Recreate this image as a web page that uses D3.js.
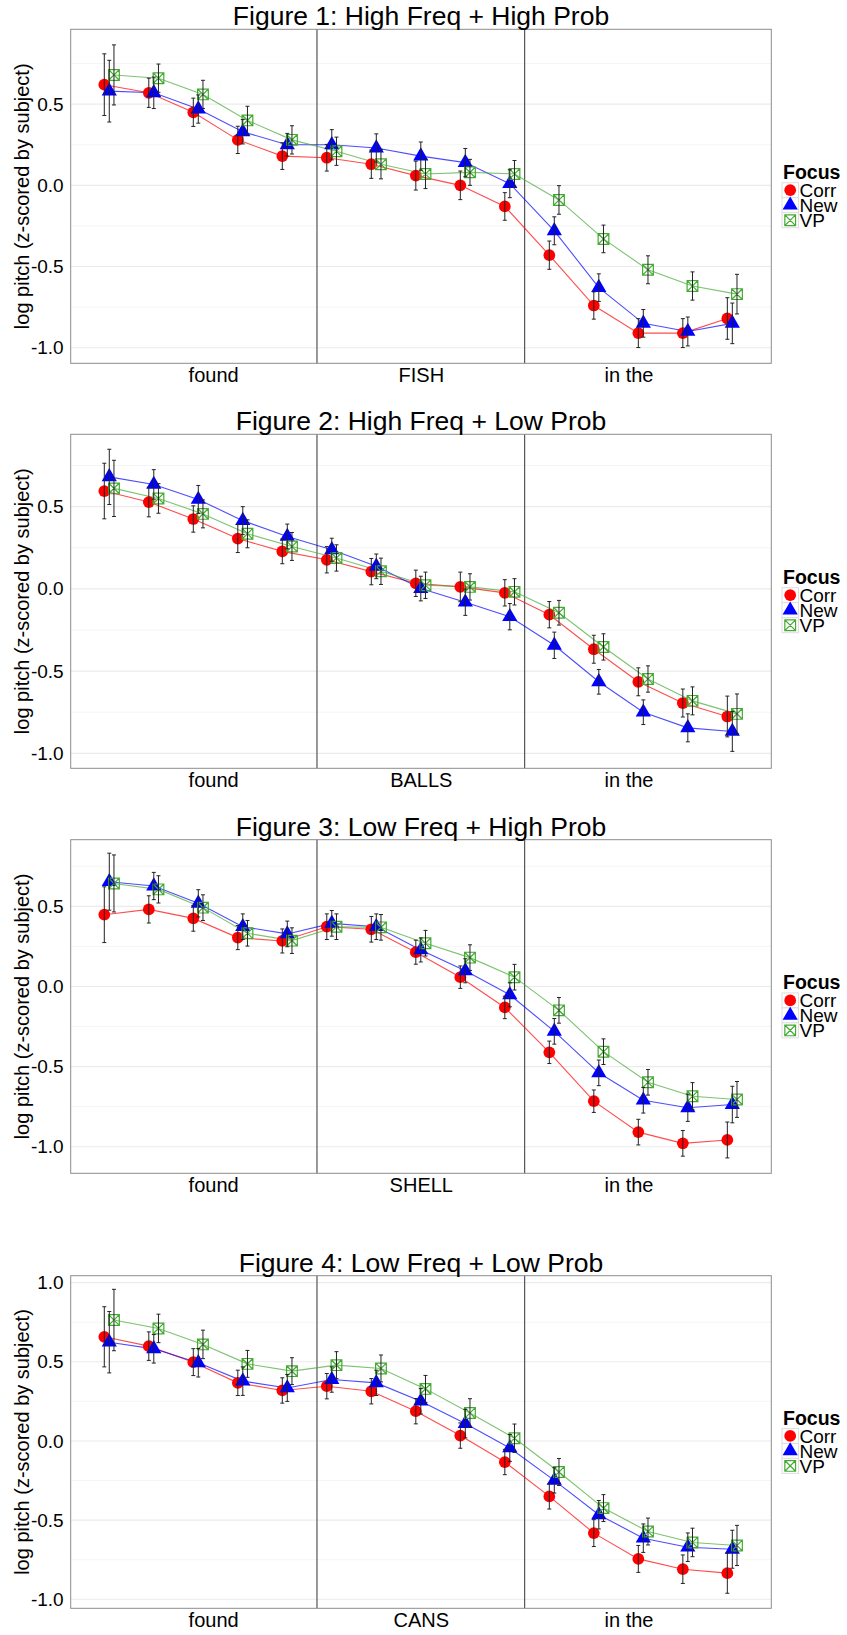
<!DOCTYPE html>
<html>
<head>
<meta charset="utf-8">
<script src="https://cdn.jsdelivr.net/npm/d3@7"></script>
<style>
  body { margin: 0; background: #fff; }
  svg { display: block; font-family: "Liberation Sans", Arial, sans-serif; }
</style>
</head>
<body>
<svg id="chart" width="847" height="1635"></svg>
<script>
// ---- data ----
const focusLevels = ['Corr', 'New', 'VP'];
const timePoints = [1, 2, 3, 4, 5, 6, 7, 8, 9, 10, 11, 12, 13, 14, 15];
const figureTitles = [
  'Figure 1: High Freq + High Prob',
  'Figure 2: High Freq + Low Prob',
  'Figure 3: Low Freq + High Prob',
  'Figure 4: Low Freq + Low Prob'
];
const targetWords = ['FISH', 'BALLS', 'SHELL', 'CANS'];
const wordTickPos = [3.333, 8, 12.667];
const wordBoundaries = [5.667, 10.333];
const majorTicks = [-1, -0.5, 0, 0.5, 1];
const minorTicks = [-1.25, -0.75, -0.25, 0.25, 0.75];
const yDomains = [[-1.096, 0.961], [-1.091, 0.94], [-1.166, 0.916], [-1.057, 1.044]];

// Figure 1
const fig1Corr = [0.62, 0.57, 0.45, 0.28, 0.18, 0.17, 0.13, 0.06, 0.00, -0.13, -0.43, -0.74, -0.91, -0.91, -0.82];
const fig1New  = [0.58, 0.57, 0.47, 0.33, 0.25, 0.25, 0.23, 0.18, 0.14, 0.01, -0.28, -0.63, -0.85, -0.90, -0.85];
const fig1VP   = [0.68, 0.66, 0.56, 0.40, 0.28, 0.21, 0.13, 0.07, 0.08, 0.07, -0.09, -0.33, -0.52, -0.62, -0.67];
const fig1CorrSE = [0.19, 0.09, 0.087, 0.084, 0.082, 0.082, 0.087, 0.089, 0.088, 0.085, 0.087, 0.084, 0.089, 0.089, 0.128];
const fig1NewSE  = [0.19, 0.097, 0.087, 0.075, 0.07, 0.093, 0.087, 0.087, 0.087, 0.086, 0.086, 0.085, 0.085, 0.089, 0.125];
const fig1VPSE   = [0.185, 0.087, 0.087, 0.087, 0.087, 0.087, 0.09, 0.09, 0.08, 0.083, 0.088, 0.085, 0.086, 0.087, 0.122];

// Figure 2
const fig2Corr = [0.595, 0.528, 0.425, 0.306, 0.228, 0.177, 0.105, 0.034, 0.012, -0.024, -0.157, -0.367, -0.565, -0.694, -0.776];
const fig2New  = [0.681, 0.635, 0.544, 0.415, 0.319, 0.238, 0.137, 0.002, -0.081, -0.169, -0.343, -0.565, -0.75, -0.845, -0.867];
const fig2VP   = [0.611, 0.55, 0.456, 0.335, 0.258, 0.188, 0.107, 0.022, 0.012, -0.018, -0.145, -0.353, -0.548, -0.681, -0.76];
const fig2CorrSE = [0.169, 0.09, 0.08, 0.085, 0.075, 0.08, 0.08, 0.08, 0.09, 0.08, 0.08, 0.085, 0.085, 0.085, 0.124];
const fig2NewSE  = [0.168, 0.09, 0.085, 0.085, 0.075, 0.07, 0.075, 0.075, 0.08, 0.08, 0.08, 0.075, 0.075, 0.085, 0.121];
const fig2VPSE   = [0.171, 0.09, 0.085, 0.085, 0.085, 0.08, 0.08, 0.08, 0.08, 0.08, 0.075, 0.08, 0.08, 0.085, 0.121];

// Figure 3
const fig3Corr = [0.448, 0.481, 0.425, 0.305, 0.284, 0.373, 0.357, 0.214, 0.058, -0.131, -0.411, -0.716, -0.909, -0.979, -0.958];
const fig3New  = [0.654, 0.627, 0.519, 0.373, 0.328, 0.394, 0.373, 0.228, 0.098, -0.052, -0.28, -0.539, -0.71, -0.757, -0.737];
const fig3VP   = [0.643, 0.606, 0.492, 0.332, 0.286, 0.373, 0.369, 0.27, 0.18, 0.058, -0.149, -0.407, -0.598, -0.685, -0.705];
const fig3CorrSE = [0.174, 0.085, 0.08, 0.075, 0.075, 0.08, 0.08, 0.075, 0.07, 0.07, 0.07, 0.07, 0.08, 0.08, 0.112];
const fig3NewSE  = [0.178, 0.085, 0.085, 0.08, 0.08, 0.08, 0.08, 0.075, 0.075, 0.075, 0.08, 0.08, 0.08, 0.085, 0.114];
const fig3VPSE   = [0.178, 0.085, 0.08, 0.08, 0.08, 0.08, 0.08, 0.08, 0.08, 0.08, 0.08, 0.08, 0.08, 0.085, 0.112];

// Figure 4
const fig4Corr = [0.658, 0.599, 0.498, 0.367, 0.319, 0.346, 0.314, 0.188, 0.034, -0.133, -0.35, -0.582, -0.745, -0.81, -0.835];
const fig4New  = [0.624, 0.582, 0.494, 0.378, 0.335, 0.388, 0.367, 0.251, 0.11, -0.044, -0.249, -0.466, -0.614, -0.671, -0.684];
const fig4VP   = [0.764, 0.711, 0.61, 0.487, 0.441, 0.479, 0.458, 0.329, 0.177, 0.017, -0.196, -0.424, -0.572, -0.641, -0.66];
const fig4CorrSE = [0.19, 0.09, 0.085, 0.08, 0.08, 0.08, 0.08, 0.08, 0.08, 0.08, 0.08, 0.085, 0.085, 0.09, 0.127];
const fig4NewSE  = [0.194, 0.09, 0.09, 0.09, 0.085, 0.08, 0.08, 0.08, 0.09, 0.085, 0.08, 0.09, 0.09, 0.09, 0.12];
const fig4VPSE   = [0.194, 0.09, 0.09, 0.085, 0.085, 0.085, 0.085, 0.085, 0.09, 0.09, 0.085, 0.085, 0.085, 0.09, 0.127];

const figures = [
  { means: [fig1Corr, fig1New, fig1VP], se: [fig1CorrSE, fig1NewSE, fig1VPSE] },
  { means: [fig2Corr, fig2New, fig2VP], se: [fig2CorrSE, fig2NewSE, fig2VPSE] },
  { means: [fig3Corr, fig3New, fig3VP], se: [fig3CorrSE, fig3NewSE, fig3VPSE] },
  { means: [fig4Corr, fig4New, fig4VP], se: [fig4CorrSE, fig4NewSE, fig4VPSE] }
];

// ---- layout ----
const plotLeft = 70.7, plotRight = 771.3;
const panelTops = [29.3, 434.3, 839.7, 1275.7];
const panelBottoms = [363.3, 768.3, 1173.3, 1608.3];
const dodge = { Corr: -0.112, New: 0, VP: 0.105 };
const colors = { Corr: '#ff0000', New: '#0000ff', VP: '#44aa33' };

// square with a cross (ggplot shape 7)
const squareCross = {
  draw(context, size) {
    const s = Math.sqrt(size) / 2;
    context.moveTo(-s, -s); context.lineTo(s, -s); context.lineTo(s, s); context.lineTo(-s, s); context.closePath();
    context.moveTo(-s, -s); context.lineTo(s, s);
    context.moveTo(s, -s); context.lineTo(-s, s);
  }
};
const symbols = {
  Corr: d3.symbol().type(d3.symbolCircle).size(108),
  New: d3.symbol().type(d3.symbolTriangle).size(100),
  VP: d3.symbol().type(squareCross).size(115)
};
function styleSymbol(sel, f) {
  sel.attr('d', symbols[f]())
    .attr('fill', f === 'VP' ? 'none' : colors[f])
    .attr('stroke', f === 'VP' ? colors[f] : 'none')
    .attr('stroke-width', 1.2);
}

const svg = d3.select('#chart');
svg.append('rect').attr('width', 847).attr('height', 1635).attr('fill', '#fff');

const x = d3.scaleLinear().domain([0.133, 15.876]).range([plotLeft, plotRight]);

figures.forEach((fig, k) => {
  const top = panelTops[k], bottom = panelBottoms[k];
  const y = d3.scaleLinear().domain(yDomains[k]).range([bottom, top]);
  const inDomain = v => v >= yDomains[k][0] && v <= yDomains[k][1];
  const g = svg.append('g');

  // grid
  g.selectAll('line.minor')
    .data(minorTicks.filter(inDomain))
    .join('line')
    .attr('x1', plotLeft).attr('x2', plotRight)
    .attr('y1', d => y(d)).attr('y2', d => y(d))
    .attr('stroke', '#f5f5f5').attr('stroke-width', 1);
  g.selectAll('line.major')
    .data(majorTicks.filter(inDomain))
    .join('line')
    .attr('x1', plotLeft).attr('x2', plotRight)
    .attr('y1', d => y(d)).attr('y2', d => y(d))
    .attr('stroke', '#ebebeb').attr('stroke-width', 1.1);

  // word boundaries
  g.selectAll('line.bound')
    .data(wordBoundaries)
    .join('line')
    .attr('x1', d => x(d)).attr('x2', d => x(d))
    .attr('y1', top).attr('y2', bottom)
    .attr('stroke', '#555').attr('stroke-width', 1.2);

  // series lines
  const line = d3.line().x(d => x(d.t + dodge[d.f])).y(d => y(d.m));
  const rows = focusLevels.map((f, s) =>
    timePoints.map((t, i) => ({ f, t, m: fig.means[s][i], se: fig.se[s][i] })));

  g.selectAll('path.series')
    .data(rows)
    .join('path')
    .attr('d', line)
    .attr('fill', 'none')
    .attr('stroke', d => colors[d[0].f])
    .attr('stroke-opacity', 0.7)
    .attr('stroke-width', 1.1);

  // points
  rows.forEach(r => {
    g.selectAll(null)
      .data(r)
      .join('path')
      .attr('transform', d => `translate(${x(d.t + dodge[d.f])},${y(d.m)})`)
      .call(sel => styleSymbol(sel, r[0].f));
  });

  // error bars
  const all = rows.flat();
  const eb = g.selectAll('g.eb').data(all).join('g')
    .attr('stroke', '#222').attr('stroke-width', 1);
  eb.append('line')
    .attr('x1', d => x(d.t + dodge[d.f])).attr('x2', d => x(d.t + dodge[d.f]))
    .attr('y1', d => y(d.m - d.se)).attr('y2', d => y(d.m + d.se));
  eb.append('line')
    .attr('x1', d => x(d.t + dodge[d.f]) - 2).attr('x2', d => x(d.t + dodge[d.f]) + 2)
    .attr('y1', d => y(d.m + d.se)).attr('y2', d => y(d.m + d.se));
  eb.append('line')
    .attr('x1', d => x(d.t + dodge[d.f]) - 2).attr('x2', d => x(d.t + dodge[d.f]) + 2)
    .attr('y1', d => y(d.m - d.se)).attr('y2', d => y(d.m - d.se));

  // panel border
  g.append('rect')
    .attr('x', plotLeft).attr('y', top)
    .attr('width', plotRight - plotLeft).attr('height', bottom - top)
    .attr('fill', 'none').attr('stroke', '#8c8c8c').attr('stroke-width', 1);

  // axes
  const yAxis = d3.axisLeft(y)
    .tickValues(majorTicks.filter(inDomain))
    .tickFormat(d => d.toFixed(1))
    .tickSize(0).tickPadding(7);
  g.append('g')
    .attr('transform', `translate(${plotLeft},0)`)
    .call(yAxis)
    .call(a => a.select('.domain').remove())
    .selectAll('text')
    .attr('font-size', 19).attr('font-family', '"Liberation Sans", Arial, sans-serif').attr('fill', '#000');

  const labels = ['found', targetWords[k], 'in the'];
  const xAxis = d3.axisBottom(x)
    .tickValues(wordTickPos)
    .tickFormat((d, i) => labels[i])
    .tickSize(0).tickPadding(5);
  g.append('g')
    .attr('transform', `translate(0,${bottom})`)
    .call(xAxis)
    .call(a => a.select('.domain').remove())
    .selectAll('text')
    .attr('font-size', 20).attr('font-family', '"Liberation Sans", Arial, sans-serif').attr('fill', '#000');

  // y title
  const cy = (top + bottom) / 2;
  g.append('text')
    .attr('transform', `translate(29,${cy}) rotate(-90)`)
    .attr('text-anchor', 'middle')
    .attr('font-size', 20)
    .text('log pitch (z-scored by subject)');

  // title
  g.append('text')
    .attr('x', (plotLeft + plotRight) / 2)
    .attr('y', top - 4)
    .attr('text-anchor', 'middle')
    .attr('font-size', 26.5)
    .text(figureTitles[k]);

  // legend
  const lg = g.append('g').attr('transform', `translate(782,${cy})`);
  lg.append('text')
    .attr('x', 1).attr('y', -17.3)
    .attr('font-size', 19.5).attr('font-weight', 'bold')
    .text('Focus');
  const items = lg.selectAll('g.item')
    .data(focusLevels)
    .join('g')
    .attr('transform', (d, i) => `translate(0,${-13.6 + i * 15})`);
  items.append('rect')
    .attr('width', 16.5).attr('height', 15)
    .attr('fill', '#fff').attr('stroke', '#dedede').attr('stroke-width', 1);
  items.append('path')
    .attr('transform', 'translate(8.2,7.5)')
    .each(function(f) { styleSymbol(d3.select(this), f); });
  items.append('text')
    .attr('x', 17.5).attr('y', 14.3)
    .attr('font-size', 19)
    .text(d => d);
});
</script>
</body>
</html>
